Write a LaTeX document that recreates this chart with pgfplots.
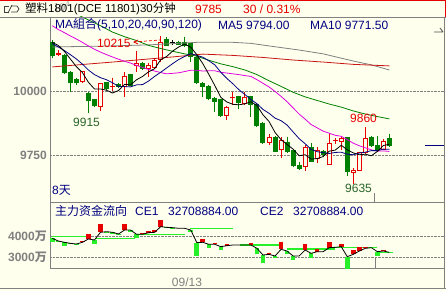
\documentclass[border=0pt]{standalone}
\usepackage{fontspec}
\setmainfont{Liberation Sans}
\newfontfamily\cjk{Noto Sans CJK SC}
\usepackage{pgfplots}
\usepackage{pgfplotstable}
\pgfplotsset{compat=1.18}
\definecolor{bg}{RGB}{255,255,238}
\definecolor{navy}{RGB}{0,0,128}
\definecolor{cgreen}{RGB}{0,128,0}
\definecolor{cred}{RGB}{230,0,0}
\definecolor{mag}{RGB}{225,0,225}
\definecolor{maR}{RGB}{200,20,20}
\definecolor{lbl}{RGB}{128,128,128}
\definecolor{lgreen}{RGB}{40,240,40}
\definecolor{dgreen}{RGB}{40,100,40}
\pgfplotsset{ebar/.style={draw=none, no markers, forget plot, error bars/.cd, y dir=minus, y explicit, error mark=none, error bar style={draw=#1}}}

% candles: index open high low close
\pgfplotstableread{
i o h l c
0 10193 10199 10130 10137
2 10141 10145 10065 10071
3 10075 10078 9997 10032
4 10046 10052 10025 10030
6 9991 9995 9915 9961
7 9967 9970 9938 9941
9 10034 10036 10004 10007
11 10026 10030 10010 10014
13 10065 10067 10018 10020
15 10111 10115 10082 10085
19 10202 10212 10174 10176
21 10193 10197 10178 10180
22 10193 10212 10170 10176
23 10186 10189 10115 10134
24 10134 10136 10028 10030
25 10032 10035 9978 10017
26 10020 10022 9965 9967
27 9971 9975 9919 9958
28 9967 9969 9900 9902
31 9980 9982 9930 9954
33 9980 9982 9900 9945
34 9950 9955 9858 9862
35 9876 9878 9794 9796
37 9822 9825 9760 9763
39 9802 9822 9757 9763
40 9770 9772 9705 9707
41 9711 9722 9692 9694
43 9783 9796 9722 9724
45 9766 9768 9748 9750
49 9820 9822 9668 9682
53 9819 9826 9783 9785
54 9789 9826 9768 9770
56 9815 9833 9783 9785
}\greenc
\pgfplotstableread{
i o h l c
1 10142 10160 10135 10150
5 10034 10080 10030 10078
8 9939 10032 9923 10030
10 10014 10052 10000 10020
12 10014 10075 9978 10060
14 10098 10157 10075 10108
16 10085 10108 10056 10102
17 10089 10125 10085 10121
18 10121 10215 10115 10193
29 9902 9941 9887 9939
30 9972 9997 9945 9976
32 9949 9997 9945 9978
36 9798 9831 9790 9822
38 9770 9822 9737 9809
42 9702 9789 9689 9783
44 9733 9783 9717 9770
46 9711 9835 9709 9796
47 9803 9815 9793 9807
48 9802 9820 9770 9815
50 9681 9700 9635 9692
51 9688 9762 9686 9760
52 9757 9860 9755 9815
55 9770 9813 9768 9806
}\redc
\pgfplotstableread{
i o h l c
20 10187 10199 10180 10191
}\dojic

% moving averages
\pgfplotstableread{
i v
0 10190
1 10178
2 10155
3 10125
4 10095
5 10072
6 10034
7 10008
8 10008
9 10003
10 9992
11 10002
12 10026
13 10024
14 10044
15 10057
16 10075
17 10087
18 10122
19 10135
20 10156
21 10172
22 10183
23 10171
24 10142
25 10107
26 10065
27 10021
28 9975
29 9957
30 9948
31 9946
32 9950
33 9958
34 9943
35 9907
36 9881
37 9838
38 9810
39 9791
40 9773
41 9747
42 9751
43 9734
44 9736
45 9744
46 9765
47 9769
48 9788
49 9770
50 9758
51 9751
52 9753
53 9747
54 9764
55 9787
56 9792
}\maA
\pgfplotstableread{
i v
0 10185
1 10172
2 10158
3 10142
4 10125
5 10105
6 10082
7 10064
8 10052
9 10044
10 10032
11 10018
12 10017
13 10016
14 10024
15 10025
16 10039
17 10057
18 10073
19 10090
20 10107
21 10123
22 10135
23 10146
24 10139
25 10132
26 10118
27 10102
28 10073
29 10049
30 10028
31 10005
32 9986
33 9967
34 9950
35 9928
36 9913
37 9894
38 9884
39 9867
40 9840
41 9814
42 9794
43 9772
44 9763
45 9759
46 9756
47 9760
48 9761
49 9753
50 9751
51 9758
52 9761
53 9767
54 9767
55 9773
56 9772
}\maB
\pgfplotstableread{
i v
0 10255
1 10240
2 10228
3 10215
4 10203
5 10190
6 10176
7 10163
8 10152
9 10142
10 10133
11 10124
12 10116
13 10109
14 10100
15 10092
16 10084
17 10078
18 10072
19 10067
20 10069
21 10071
22 10076
23 10081
24 10081
25 10078
26 10079
27 10079
28 10073
29 10070
30 10067
31 10064
32 10060
33 10057
34 10044
35 10030
36 10016
37 9998
38 9979
39 9958
40 9934
41 9910
42 9890
43 9869
44 9856
45 9843
46 9835
47 9827
48 9823
49 9810
50 9796
51 9786
52 9778
53 9770
54 9765
55 9766
56 9764
}\maC
\pgfplotstableread{
i v
0 10330
4 10300
8 10255
10 10230
12 10212
14 10197
16 10178
18 10166
20 10155
22 10145
24 10136
26 10120
28 10106
30 10095
32 10082
34 10064
36 10040
38 10018
40 9995
42 9977
44 9963
46 9949
48 9937
50 9922
52 9910
54 9900
56 9891
}\maD
\pgfplotstableread{
i v
0 10094
10 10113
20 10133
25 10144
30 10139
35 10131
40 10121
45 10113
50 10104
56 10098
}\maE
\pgfplotstableread{
i v
0 10172
8 10175
16 10180
24 10190
30 10190
33 10186
36 10176
41 10160
45 10145
50 10117
53 10102
56 10082
}\maF

% money flow: index, line value, other end of bar (wan)
\pgfplotstableread{
i v b
0 3892 3739
1 3769 3708
2 3708 3554
3 3662 3616
4 3631 3585
5 3708 3769
6 3862 4092
7 3816 3630
8 4170 4539
9 4199 4123
10 4169 4107
11 4092 4046
12 4276 4539
13 4276 4199
14 4077 3923
15 4077 4123
16 4153 4230
17 4169 4276
18 4430 4737
19 4399 4353
20 4384 4322
21 4353 4353
22 4353 4353
23 4276 4199
24 3700 3085
25 3708 3846
26 3616 3462
27 3616 3693
28 3508 3355
29 3554 3616
30 3585 3585
31 3585 3585
32 3585 3585
33 3585 3693
34 3431 3155
35 3124 2771
36 3155 3232
37 3078 2971
38 3385 3739
39 3308 3155
40 3078 2894
41 3078 3078
42 3355 3616
43 3201 3001
44 3278 3385
45 3278 3278
46 3462 3708
47 3477 3477
48 3508 3616
49 3047 2479
50 3155 3355
51 3308 3508
52 3431 3508
53 3462 3462
54 3278 3078
55 3308 3355
56 3247 3201
}\flow
\pgfplotstableread{
i v
0 3968
5.9 3968
nan nan
7.1 3894
13.7 3894
nan nan
13.7 4078
22 4078
nan nan
22.9 4355
30 4355
nan nan
31.2 3585
38.2 3585
nan nan
39 3401
47 3401
nan nan
47 3479
53.9 3479
nan nan
53.9 3230
56.6 3230
}\flowavg

\begin{document}
\begin{tikzpicture}
\useasboundingbox (0pt,0pt) rectangle (446pt,291pt);
\fill[bg] (0pt,0pt) rectangle (446pt,291pt);

% ---------- main price panel ----------
\begin{axis}[at={(50pt,274pt)}, anchor=north west, width=394pt, height=185pt, scale only axis,
  xmin=-0.382, xmax=65.07, ymin=9566.4, ymax=10289,
  axis line style={lbl}, xtick=\empty, ytick={9750,10000}, yticklabels={9750,10000},
  yticklabel style={font=\bfseries\fontsize{12}{14}\selectfont, text=lbl, anchor=east, inner sep=0pt, xshift=-3pt},
  major tick length=0pt, ymajorgrids, grid style={lbl, densely dotted, line width=0.8pt}]
% green candles
\addplot[ebar={cgreen, line width=1pt}] table[x=i, y=h, y error minus expr={\thisrow{h}-\thisrow{l}}] {\greenc};
\addplot[ebar={cgreen, line width=5pt}] table[x=i, y=o, y error minus expr={\thisrow{o}-\thisrow{c}}] {\greenc};
% red candles (hollow)
\addplot[ebar={cred, line width=1pt}] table[x=i, y=h, y error minus expr={\thisrow{h}-\thisrow{l}}] {\redc};
\addplot[ebar={cred, line width=5pt}] table[x=i, y=c, y error minus expr={\thisrow{c}-\thisrow{o}}] {\redc};
\addplot[ebar={bg, line width=3pt}] table[x=i, y expr={\thisrow{c}-4}, y error minus expr={max(\thisrow{c}-\thisrow{o}-8,0)}] {\redc};
% doji
\addplot[ebar={black, line width=1pt}] table[x=i, y=h, y error minus expr={\thisrow{h}-\thisrow{l}}] {\dojic};
\addplot[ebar={black, line width=5pt}] table[x=i, y=c, y error minus expr={\thisrow{c}-\thisrow{o}}] {\dojic};
% moving averages
\addplot[draw=lbl, line width=0.8pt, mark=none] table[x=i,y=v] {\maF};
\addplot[draw=maR, line width=0.8pt, mark=none] table[x=i,y=v] {\maE};
\addplot[draw=cgreen, line width=0.8pt, mark=none] table[x=i,y=v] {\maD};
\addplot[draw=mag, line width=0.8pt, mark=none] table[x=i,y=v] {\maC};
\addplot[draw=navy, line width=0.8pt, mark=none] table[x=i,y=v] {\maB};
\addplot[draw=black, line width=0.8pt, mark=none] table[x=i,y=v] {\maA};
\end{axis}

% ---------- money flow panel ----------
\begin{axis}[at={(50pt,89pt)}, anchor=north west, width=394pt, height=66pt, scale only axis,
  xmin=-0.382, xmax=65.07, ymin=2525, ymax=5567,
  axis line style={lbl}, xtick=\empty, ytick={3000,4000}, yticklabels={3000{\cjk 万},4000{\cjk 万}},
  yticklabel style={font=\bfseries\fontsize{12}{14}\selectfont, text=lbl, anchor=east, inner sep=0pt, xshift=-3pt},
  major tick length=0pt, ymajorgrids, grid style={lbl, densely dotted, line width=0.8pt}]
\addplot[draw=lgreen, line width=1.2pt, mark=none, unbounded coords=jump] table[x=i,y=v] {\flowavg};
\addplot[ebar={cred, line width=4.6pt}] table[x=i, y=b, y error minus expr={max(\thisrow{b}-\thisrow{v},0)}] {\flow};
\addplot[ebar={lgreen, line width=4.6pt}] table[x=i, y=v, y error minus expr={max(\thisrow{v}-\thisrow{b},0)}] {\flow};
\addplot[draw=black, line width=0.8pt, mark=none] table[x=i,y=v] {\flow};
\end{axis}

\begin{scope}[x=1pt, y=-1pt, shift={(0pt,291pt)}]
% ---------- frame and decorations ----------
\draw[cred, line width=1pt] (0,0.5) -- (446,0.5);
\draw[cred, line width=1pt] (445.5,0) -- (445.5,17);
\draw[lbl, line width=1pt] (0,17.5) -- (446,17.5);
\draw[lbl, line width=1pt] (444,268) -- (444,289);
\draw[lbl, line width=1pt] (0,288.5) -- (446,288.5);
\draw[lbl, line width=1pt] (374,193) -- (374,202);
\draw[lbl, line width=1pt] (375,257) -- (375,268);
\draw[navy, line width=1pt] (425,146) -- (444,146);
\draw[black!70, line width=0.8pt] (434,32) -- (443,32) (443,32) -- (440,28);
% title icon
\draw[black!75, line width=0.8pt] (9,6) -- (4,6) -- (4,12) -- (9,12);
\draw[black!75, line width=0.8pt] (8,13) -- (12,5);
\draw[black!75, line width=0.8pt] (11,6) -- (17,6) -- (19,9) -- (17,12) -- (11,12);

% texts
\node[anchor=west, inner sep=0pt, font=\fontsize{11.5}{13}\selectfont] at (25,9) {{\cjk 塑料}1801(DCE 11801)30{\cjk 分钟}};
\node[anchor=west, inner sep=0pt, text=cred, font=\fontsize{12}{14}\selectfont] at (195,9) {9785};
\node[anchor=west, inner sep=0pt, text=cred, font=\fontsize{12}{14}\selectfont] at (243,9) {30 / 0.31\%};
\node[anchor=west, inner sep=0pt, text=navy, font=\fontsize{12}{14}\selectfont] at (55,25) {MA{\cjk 組合}(5,10,20,40,90,120)};
\node[anchor=west, inner sep=0pt, text=navy, font=\fontsize{12}{14}\selectfont] at (218,25) {MA5 9794.00};
\node[anchor=west, inner sep=0pt, text=navy, font=\fontsize{12}{14}\selectfont] at (310,25) {MA10 9771.50};
\node[anchor=west, inner sep=0pt, text=navy, font=\fontsize{12}{14}\selectfont] at (52,190) {8{\cjk 天}};
\node[anchor=west, inner sep=0pt, text=cred, font=\fontsize{12}{14}\selectfont] at (97,43) {10215};
\draw[cred, line width=0.7pt] (138,40) -- (134,42) -- (138,44);
\draw[cred, densely dashed, line width=0.7pt] (134,42) -- (160,40);
\node[anchor=west, inner sep=0pt, text=dgreen, font=\fontsize{12}{14}\selectfont] at (73,122) {9915};
\node[anchor=west, inner sep=0pt, text=cred, font=\fontsize{12}{14}\selectfont] at (350,118) {9860};
\node[anchor=west, inner sep=0pt, text=dgreen, font=\fontsize{12}{14}\selectfont] at (345,188) {9635};
\node[anchor=west, inner sep=0pt, text=navy, font=\fontsize{12}{14}\selectfont] at (55,211) {{\cjk 主力资金流向}};
\node[anchor=west, inner sep=0pt, text=navy, font=\fontsize{12}{14}\selectfont] at (135,211) {CE1};
\node[anchor=west, inner sep=0pt, text=navy, font=\fontsize{12}{14}\selectfont] at (168,211) {32708884.00};
\node[anchor=west, inner sep=0pt, text=navy, font=\fontsize{12}{14}\selectfont] at (260,211) {CE2};
\node[anchor=west, inner sep=0pt, text=navy, font=\fontsize{12}{14}\selectfont] at (293,211) {32708884.00};
\node[inner sep=0pt, text=lbl, font=\fontsize{12}{14}\selectfont] at (187,282) {09/13};
\end{scope}
\end{tikzpicture}
\end{document}
